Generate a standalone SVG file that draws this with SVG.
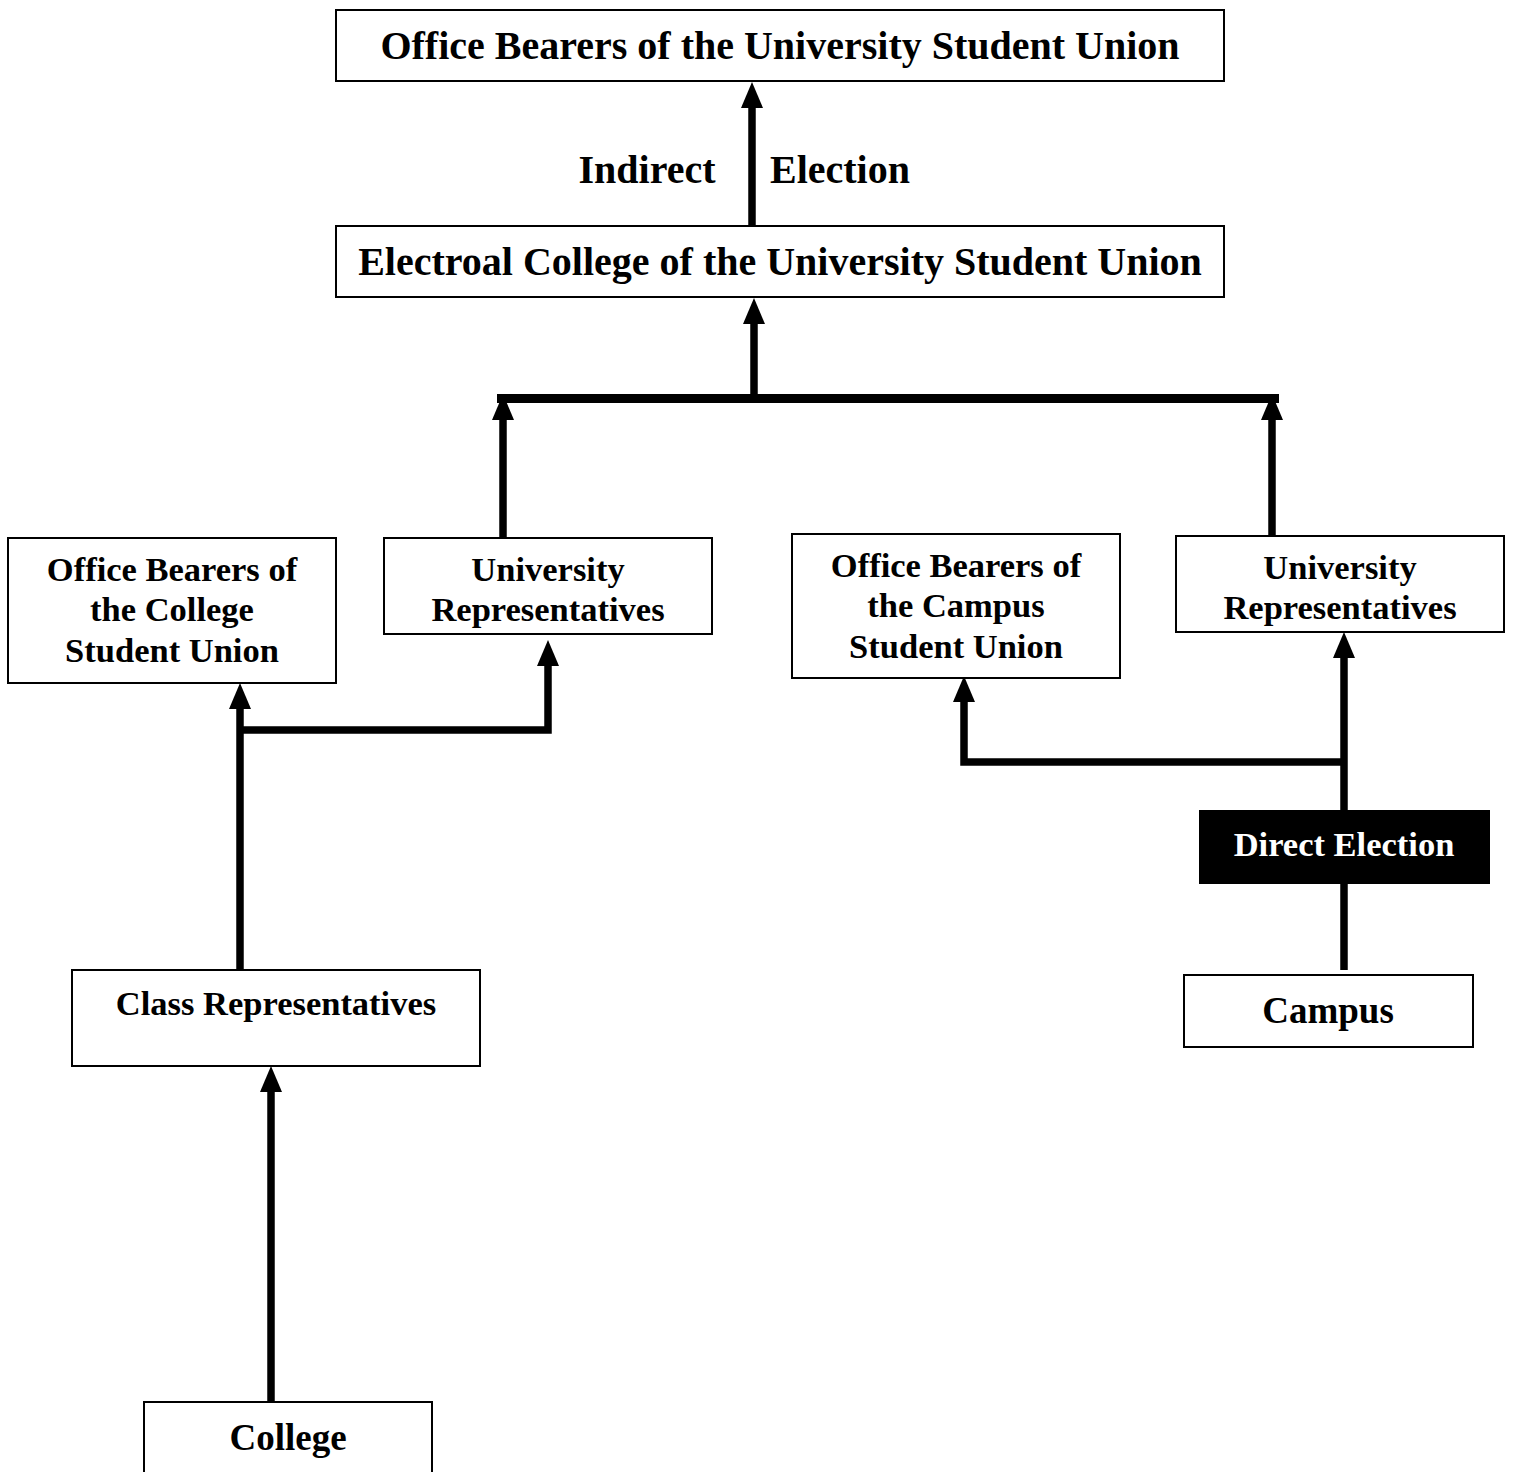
<svg xmlns="http://www.w3.org/2000/svg" width="1514" height="1472" viewBox="0 0 1514 1472">
<style>
.box{fill:#fff;stroke:#000;stroke-width:2}
.dark{fill:#000;stroke:#000;stroke-width:2}
.t{font-family:"Liberation Serif","Times New Roman",serif;font-weight:bold;text-anchor:middle;fill:#000}
.big{font-size:40px}
.mid{font-size:34.5px}
.lg{font-size:37px}
.w{fill:#fff}
.c{fill:none;stroke:#000;stroke-width:7.5;stroke-linejoin:miter}
</style>
<defs>
<marker id="ah" markerUnits="userSpaceOnUse" markerWidth="28" markerHeight="24" refX="0" refY="11" orient="auto" viewBox="0 0 28 24">
<path d="M0,0 L26,11 L0,22 z" fill="#000"/>
</marker>
</defs>
<rect width="1514" height="1472" fill="#fff"/>
<g id="connectors">
<line class="c" x1="752" y1="226" x2="752" y2="108" marker-end="url(#ah)"/>
<line class="c" x1="754" y1="398" x2="754" y2="324" marker-end="url(#ah)"/>
<line x1="497" y1="398.5" x2="1279" y2="398.5" stroke="#000" stroke-width="9"/>
<line class="c" x1="503" y1="538" x2="503" y2="420" marker-end="url(#ah)"/>
<line class="c" x1="1272" y1="537" x2="1272" y2="420" marker-end="url(#ah)"/>
<line class="c" x1="240" y1="970" x2="240" y2="709" marker-end="url(#ah)"/>
<path class="c" d="M240,730 H548 V666" marker-end="url(#ah)"/>
<line class="c" x1="271" y1="1402" x2="271" y2="1092" marker-end="url(#ah)"/>
<line class="c" x1="1344" y1="970" x2="1344" y2="658" marker-end="url(#ah)"/>
<path class="c" d="M1344,762 H964 V702" marker-end="url(#ah)"/>
</g>
<g id="label-indirect">
<text class="t big" x="647" y="183">Indirect</text>
<text class="t big" x="840" y="183">Election</text>
</g>
<g id="node-office-university">
<rect class="box" x="336" y="10" width="888" height="71"/>
<text class="t big" x="780" y="59">Office Bearers of the University Student Union</text>
</g>
<g id="node-electoral-college">
<rect class="box" x="336" y="226" width="888" height="71"/>
<text class="t big" x="780" y="275">Electroal College of the University Student Union</text>
</g>
<g id="node-office-college">
<rect class="box" x="8" y="538" width="328" height="145"/>
<text class="t mid" x="172" y="581">Office Bearers of</text>
<text class="t mid" x="172" y="621">the College</text>
<text class="t mid" x="172" y="662">Student Union</text>
</g>
<g id="node-univ-rep-left">
<rect class="box" x="384" y="538" width="328" height="96"/>
<text class="t mid" x="548" y="581">University</text>
<text class="t mid" x="548" y="621">Representatives</text>
</g>
<g id="node-office-campus">
<rect class="box" x="792" y="534" width="328" height="144"/>
<text class="t mid" x="956" y="577">Office Bearers of</text>
<text class="t mid" x="956" y="617">the Campus</text>
<text class="t mid" x="956" y="658">Student Union</text>
</g>
<g id="node-univ-rep-right">
<rect class="box" x="1176" y="536" width="328" height="96"/>
<text class="t mid" x="1340" y="579">University</text>
<text class="t mid" x="1340" y="619">Representatives</text>
</g>
<g id="node-direct-election">
<rect class="dark" x="1200" y="811" width="289" height="72"/>
<text class="t mid w" x="1344" y="856">Direct Election</text>
</g>
<g id="node-class-rep">
<rect class="box" x="72" y="970" width="408" height="96"/>
<text class="t mid" x="276" y="1015">Class Representatives</text>
</g>
<g id="node-campus">
<rect class="box" x="1184" y="975" width="289" height="72"/>
<text class="t lg" x="1328" y="1023">Campus</text>
</g>
<g id="node-college">
<rect class="box" x="144" y="1402" width="288" height="80"/>
<text class="t lg" x="288" y="1450">College</text>
</g>
</svg>
